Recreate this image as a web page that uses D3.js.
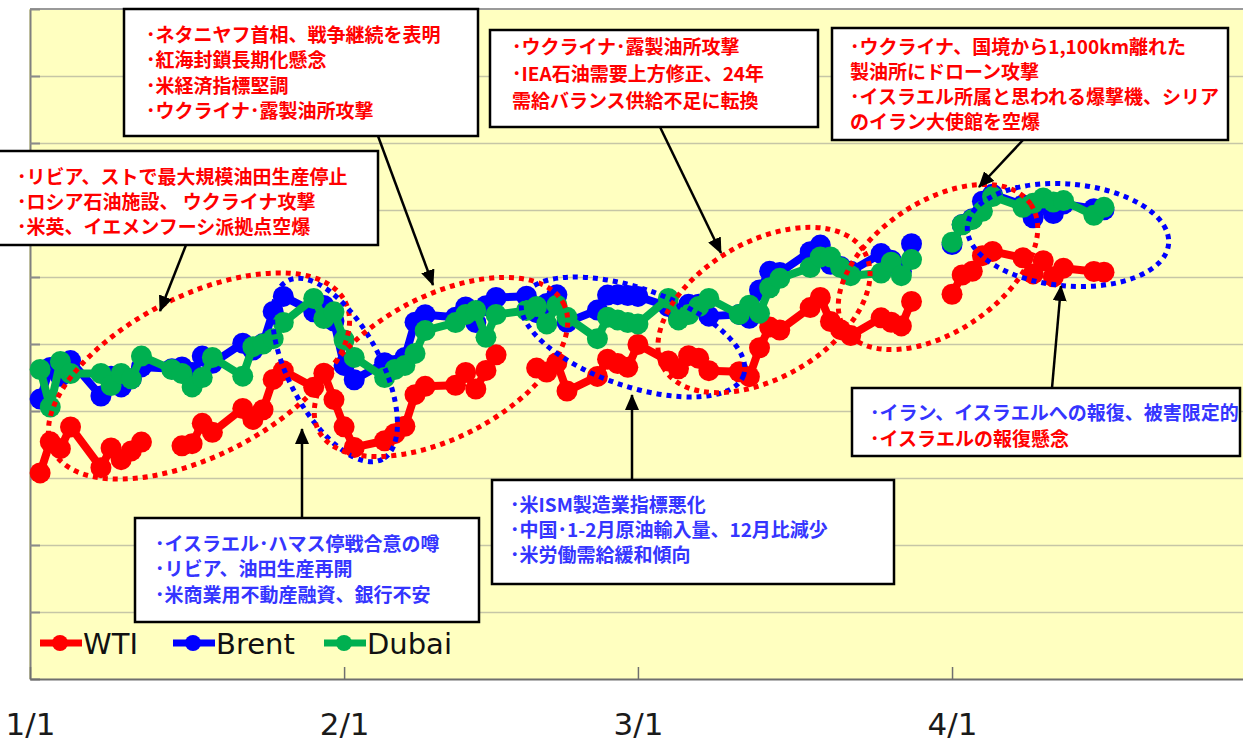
<!DOCTYPE html>
<html>
<head>
<meta charset="utf-8">
<script src="https://cdn.jsdelivr.net/npm/d3@7"></script>
<style>
  body { margin: 0; background: #fff }
  svg { display: block }
</style>
</head>
<body>
<svg id="chart" width="1243" height="744"></svg>
<script>
// trading days, 2024
const days = [
  '2024-01-02', '2024-01-03', '2024-01-04', '2024-01-05', '2024-01-08', '2024-01-09', '2024-01-10', '2024-01-11',
  '2024-01-12', '2024-01-15', '2024-01-16', '2024-01-17', '2024-01-18', '2024-01-19', '2024-01-22', '2024-01-23',
  '2024-01-24', '2024-01-25', '2024-01-26', '2024-01-29', '2024-01-30', '2024-01-31',
  '2024-02-01', '2024-02-02', '2024-02-05', '2024-02-06', '2024-02-07', '2024-02-08', '2024-02-09', '2024-02-12',
  '2024-02-13', '2024-02-14', '2024-02-15', '2024-02-16', '2024-02-19', '2024-02-20', '2024-02-21', '2024-02-22',
  '2024-02-23', '2024-02-26', '2024-02-27', '2024-02-28', '2024-02-29',
  '2024-03-01', '2024-03-04', '2024-03-05', '2024-03-06', '2024-03-07', '2024-03-08', '2024-03-11', '2024-03-12',
  '2024-03-13', '2024-03-14', '2024-03-15', '2024-03-18', '2024-03-19', '2024-03-20', '2024-03-21', '2024-03-22',
  '2024-03-25', '2024-03-26', '2024-03-27', '2024-03-28', '2024-03-29',
  '2024-04-01', '2024-04-02', '2024-04-03', '2024-04-04', '2024-04-05', '2024-04-08', '2024-04-09', '2024-04-10',
  '2024-04-11', '2024-04-12', '2024-04-15', '2024-04-16'
]

// USD/bbl, null = no settlement (holiday)
const wti = [
  70.38, 72.70, 72.19, 73.81, 70.77, 72.24, 71.37, 72.02, 72.68, null, 72.40, 72.56, 74.08, 73.41, 75.19, 74.37,
  75.09, 77.36, 78.01, 76.78, 77.82, 75.85,
  73.82, 72.28, 72.78, 73.31, 73.86, 76.22, 76.84, 76.92, 77.87, 76.64, 78.03, 79.19, null, 78.20, 77.91, 78.61,
  76.49, 77.58, 78.87, 78.54, 78.26,
  79.97, 78.74, 78.15, 79.13, 78.93, 78.01, 77.93, 77.56, 79.72, 81.26, 81.04, 82.72, 83.47, 81.68, 81.07, 80.63,
  81.95, 81.62, 81.35, 83.17, null,
  83.71, 85.15, 85.43, 86.59, 86.91, 86.43, 85.23, 86.21, 85.02, 85.66, 85.41, 85.36
]

const brent = [
  75.89, 78.25, 77.59, 78.76, 76.12, 77.59, 76.80, 77.41, 78.29, 78.15, 78.29, 77.88, 79.10, 78.56, 80.06, 79.55,
  80.04, 82.43, 83.55, 82.40, 82.87, 81.71,
  78.40, 77.33, 78.60, 78.40, 79.00, 81.63, 82.19, 82.00, 82.77, 81.60, 82.86, 83.47, 83.56, 82.34, 83.03, 83.67,
  81.62, 82.53, 83.65, 83.68, 83.62,
  83.55, 82.80, 82.04, 82.96, 82.96, 82.08, 82.21, 81.92, 84.03, 85.42, 85.34, 86.89, 87.38, 85.95, 85.78, 85.43,
  86.75, 86.25, 85.41, 87.48, null,
  87.42, 88.92, 89.35, 90.65, 91.17, 90.38, 89.42, 90.48, 89.74, 90.45, 90.10, 90.02
]

const dubai = [
  78.1, 75.3, 78.7, 77.8, 77.8, 76.9, 77.8, 77.4, 79.1, 78.1, 77.8, 76.8, 77.5, 79.0, 77.6, 79.8,
  80.0, 80.4, 81.6, 83.4, 81.9, 82.4,
  80.3, 79.0, 77.5, 78.1, 78.4, 79.3, 81.0, 81.6, 82.2, 82.5, 80.5, 82.2, 82.5, 82.8, 81.5, 82.9,
  82.0, 80.4, 82.0, 81.8, 81.6,
  81.5, 83.4, 81.8, 82.2, 82.8, 83.4, 82.2, 82.9, 82.3, 84.2, 84.9, 85.7, 86.5, 86.5, 85.7, 85.1,
  85.3, 86.1, 85.1, 86.3, null,
  87.6, 88.9, 89.3, 89.9, 91.0, 90.2, 90.5, 90.9, 90.6, 90.7, 89.6, 90.2
]

const seriesNames = ['WTI', 'Brent', 'Dubai']
const xTickLabels = ['2024-01-01', '2024-02-01', '2024-03-01', '2024-04-01']
const yTicks = d3.range(55, 106, 5)

const colors = { WTI: '#ff0000', Brent: '#0000ff', Dubai: '#00b050' }
const values = { WTI: wti, Brent: brent, Dubai: dubai }

const parse = d3.utcParse('%Y-%m-%d')
const W = 1243
const plot = { left: 30, top: 9, bottom: 679, right: 1256 }

const svg = d3.select('#chart')

const x = d3.scaleUtc()
  .domain([parse('2024-01-01'), parse('2024-05-01')])
  .range([plot.left, plot.right])

const y = d3.scaleLinear()
  .domain([55, 105])
  .range([plot.bottom, plot.top])

// plot area
svg.append('rect')
  .attr('x', plot.left - 1)
  .attr('y', plot.top)
  .attr('width', W - plot.left + 1)
  .attr('height', plot.bottom - plot.top)
  .attr('fill', '#ffffc0')

// gridlines
const grid = svg.append('g')
  .attr('transform', `translate(${plot.left}, 0)`)
  .call(d3.axisLeft(y)
    .tickValues(yTicks.slice(1, -1))
    .tickSize(-(W - plot.left))
    .tickFormat(''))
grid.select('.domain').remove()
grid.selectAll('line').attr('stroke', '#c6c6a6').attr('stroke-width', 1.5)

// top border
svg.append('line')
  .attr('x1', plot.left).attr('x2', W)
  .attr('y1', plot.top).attr('y2', plot.top)
  .attr('stroke', '#9a9a9a').attr('stroke-width', 2)

// y axis, inner ticks only
const yAxis = svg.append('g')
  .attr('transform', `translate(${plot.left}, 0)`)
  .call(d3.axisLeft(y)
    .tickValues(yTicks)
    .tickSizeInner(-10)
    .tickSizeOuter(0)
    .tickFormat(''))
yAxis.select('.domain').attr('stroke', '#7f7f7f').attr('stroke-width', 2)
yAxis.selectAll('line').attr('stroke', '#8a8a8a').attr('stroke-width', 2)

// x axis
const xAxis = svg.append('g')
  .attr('transform', `translate(0, ${plot.bottom})`)
  .call(d3.axisBottom(x)
    .tickValues(xTickLabels.map(parse))
    .tickSizeInner(-12)
    .tickSizeOuter(0)
    .tickPadding(34)
    .tickFormat(d3.utcFormat('%-m/%-d')))
xAxis.select('.domain').attr('stroke', '#6f6f6f').attr('stroke-width', 2)
xAxis.selectAll('line').attr('stroke', '#6f6f6f').attr('stroke-width', 1.5)
xAxis.selectAll('text')
  .attr('font-family', 'DejaVu Sans')
  .attr('font-size', 31)
  .attr('fill', '#1a1a1a')

// series
const line = d3.line()
  .defined((d) => d.v !== null)
  .x((d) => x(d.date))
  .y((d) => y(d.v))

for (const name of seriesNames) {
  const data = days.map((day, i) => ({ date: parse(day), v: values[name][i] }))
  const g = svg.append('g')

  g.append('path')
    .datum(data)
    .attr('d', line)
    .attr('fill', 'none')
    .attr('stroke', colors[name])
    .attr('stroke-width', 8)
    .attr('stroke-linejoin', 'round')

  g.selectAll('circle')
    .data(data.filter((d) => d.v !== null))
    .join('circle')
    .attr('cx', (d) => x(d.date))
    .attr('cy', (d) => y(d.v))
    .attr('r', 10.5)
    .attr('fill', colors[name])
}

// legend
const legendX = [40, 173, 324]
const legend = svg.append('g').attr('transform', 'translate(0, 643)')
seriesNames.forEach((name, i) => {
  const lx = legendX[i]
  legend.append('line')
    .attr('x1', lx).attr('x2', lx + 42)
    .attr('stroke', colors[name]).attr('stroke-width', 7)
  legend.append('circle')
    .attr('cx', lx + 20).attr('r', 8)
    .attr('fill', colors[name])
  legend.append('text')
    .attr('x', lx + 43)
    .attr('y', 11)
    .attr('font-family', 'DejaVu Sans')
    .attr('font-size', 29)
    .attr('fill', '#111')
    .text(name)
})

// dotted ellipses
const rings = [
  { cx: 199, cy: 376, rx: 164, ry: 80, rot: -27, color: '#ff0000' },
  { cx: 335, cy: 370, rx: 101, ry: 46, rot: 62, color: '#0000ff' },
  { cx: 441, cy: 367, rx: 138, ry: 71, rot: -27.5, color: '#ff0000' },
  { cx: 633, cy: 337, rx: 117, ry: 49, rot: 19, color: '#0000ff' },
  { cx: 764, cy: 310, rx: 116, ry: 68, rot: -30, color: '#ff0000' },
  { cx: 938, cy: 267, rx: 112, ry: 65, rot: -34, color: '#ff0000' },
  { cx: 1068, cy: 235, rx: 101, ry: 51, rot: 5, color: '#0000ff' }
]
svg.append('g').selectAll('ellipse')
  .data(rings)
  .join('ellipse')
  .attr('transform', (d) => `translate(${d.cx}, ${d.cy}) rotate(${d.rot})`)
  .attr('rx', (d) => d.rx)
  .attr('ry', (d) => d.ry)
  .attr('fill', 'none')
  .attr('stroke', (d) => d.color)
  .attr('stroke-width', 5)
  .attr('stroke-dasharray', '5 5')

// arrows
svg.append('defs').append('marker')
  .attr('id', 'head')
  .attr('viewBox', '0 0 16 14')
  .attr('refX', 15)
  .attr('refY', 7)
  .attr('markerWidth', 16)
  .attr('markerHeight', 14)
  .attr('markerUnits', 'userSpaceOnUse')
  .attr('orient', 'auto')
  .append('path')
  .attr('d', 'M0,0 L16,7 L0,14 Z')
  .attr('fill', '#000')

const arrows = [
  [186, 245, 160, 311],
  [378, 136, 433, 285],
  [660, 127, 721, 253],
  [1023, 140, 979, 187],
  [302, 518, 302, 429],
  [632, 480, 632, 395],
  [1052, 388, 1061, 286]
]
svg.append('g').selectAll('line')
  .data(arrows)
  .join('line')
  .attr('x1', (d) => d[0]).attr('y1', (d) => d[1])
  .attr('x2', (d) => d[2]).attr('y2', (d) => d[3])
  .attr('stroke', '#000')
  .attr('stroke-width', 2.5)
  .attr('marker-end', 'url(#head)')

// annotation boxes
const RED = '#ff0000'
const BLUE = '#3535ff'
const notes = [
  { x: 124, y: 9, w: 354, h: 127, tx: 146, ty: 33, dy: 25.5, color: [RED],
    lines: ['･ネタニヤフ首相、戦争継続を表明', '･紅海封鎖長期化懸念', '･米経済指標堅調', '･ウクライナ･露製油所攻撃'] },
  { x: -2, y: 151, w: 380, h: 94, tx: 17, ty: 175, dy: 25, color: [RED],
    lines: ['･リビア、ストで最大規模油田生産停止', '･ロシア石油施設、 ウクライナ攻撃', '･米英、イエメンフーシ派拠点空爆'] },
  { x: 490, y: 30, w: 328, h: 97, tx: 512, ty: 45, dy: 27, color: [RED],
    lines: ['･ウクライナ･露製油所攻撃', '･IEA石油需要上方修正、24年', '需給バランス供給不足に転換'] },
  { x: 832, y: 28, w: 396, h: 112, tx: 850, ty: 45, dy: 25, color: [RED],
    lines: ['･ウクライナ、国境から1,100km離れた', '製油所にドローン攻撃', '･イスラエル所属と思われる爆撃機、シリア', 'のイラン大使館を空爆'] },
  { x: 135, y: 518, w: 344, h: 104, tx: 155, ty: 542, dy: 25.5, color: [BLUE],
    lines: ['･イスラエル･ハマス停戦合意の噂', '･リビア、油田生産再開', '･米商業用不動産融資、銀行不安'] },
  { x: 492, y: 480, w: 402, h: 104, tx: 510, ty: 503, dy: 25, color: [BLUE],
    lines: ['･米ISM製造業指標悪化', '･中国･1-2月原油輸入量、12月比減少', '･米労働需給緩和傾向'] },
  { x: 852, y: 388, w: 388, h: 68, tx: 870, ty: 411, dy: 26, color: [BLUE, RED],
    lines: ['･イラン、イスラエルへの報復、被害限定的', '･イスラエルの報復懸念'] }
]

for (const note of notes) {
  const g = svg.append('g')
  g.append('rect')
    .attr('x', note.x).attr('y', note.y)
    .attr('width', note.w).attr('height', note.h)
    .attr('fill', '#fff')
    .attr('stroke', '#000')
    .attr('stroke-width', 2.5)
  g.selectAll('text')
    .data(note.lines)
    .join('text')
    .attr('x', note.tx)
    .attr('y', (d, i) => note.ty + i * note.dy)
    .attr('dominant-baseline', 'central')
    .attr('font-family', 'Noto Sans CJK JP')
    .attr('font-weight', 700)
    .attr('font-size', 19)
    .attr('fill', (d, i) => note.color[i] || note.color[0])
    .text((d) => d)
}
</script>
</body>
</html>
